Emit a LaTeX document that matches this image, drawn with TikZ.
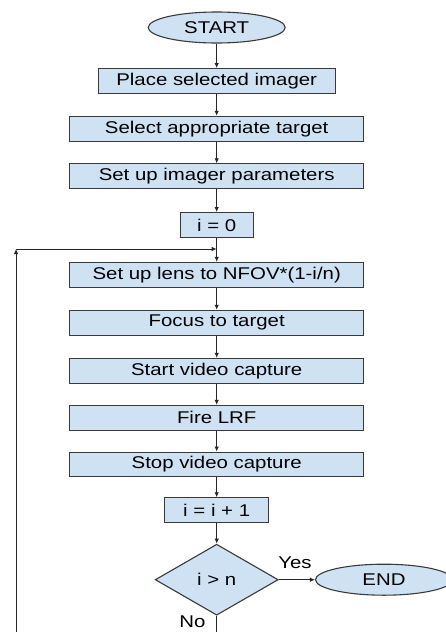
\documentclass[tikz,border=0pt]{standalone}
\usepackage{fontspec}
\setmainfont[FakeStretch=1.2]{Liberation Sans}
\usetikzlibrary{shapes.geometric,arrows.meta}
\definecolor{boxfill}{HTML}{CFE2F3}
\definecolor{boxline}{HTML}{3A3A3A}
\begin{document}
\begin{tikzpicture}[x=1pt,y=-1pt,
  every node/.style={font=\fontsize{17}{19}\selectfont, text=black, inner sep=0pt},
  stepbox/.style={rectangle, draw=boxline, fill=boxfill, line width=1.1pt, minimum height=24.8pt, minimum width=294pt},
  term/.style={ellipse, draw=boxline, fill=boxfill, line width=1.1pt, minimum width=137pt, minimum height=31pt},
  decide/.style={diamond, draw=boxline, fill=boxfill, line width=1.1pt, minimum width=123pt, minimum height=71pt, aspect=1.73},
  conn/.style={draw=black!85, line width=0.9pt, -{Latex[length=5pt,width=4.5pt]}},
  plain/.style={draw=black!85, line width=0.9pt},
  lbl/.style={font=\fontsize{17}{19}\selectfont}
]
\useasboundingbox (0,0) rectangle (446,632);
\node[term] (start) at (216.7,27.5) {START};
\node[stepbox, minimum width=237pt] (place) at (216.7,81) {Place selected imager};
\node[stepbox] (select) at (216.7,128.7) {Select appropriate target};
\node[stepbox] (setup) at (216.7,176.2) {Set up imager parameters};
\node[stepbox, minimum width=72.7pt] (izero) at (216.7,225) {i = 0};
\node[stepbox] (lens) at (216.7,274.8) {Set up lens to NFOV*(1-i/n)};
\node[stepbox] (focus) at (216.7,322.7) {Focus to target};
\node[stepbox] (startvid) at (216.7,370.8) {Start video capture};
\node[stepbox] (fire) at (216.7,417.8) {Fire LRF};
\node[stepbox] (stopvid) at (216.7,464.5) {Stop video capture};
\node[stepbox, minimum width=103.6pt] (inc) at (216.7,510.2) {i = i + 1};
\node[decide] (test) at (216.7,579.7) {i > n};
\node[term] (end) at (384,579.7) {END};
\node[lbl] (yes) at (295,563) {Yes};
\node[lbl] (no) at (192.5,622) {No};
\coordinate (join) at (216.7,249);
\coordinate (corner) at (16,249);
\coordinate (below) at (216.7,660);
\coordinate (belowleft) at (16,660);

\draw[conn] (start) -- (place);
\draw[conn] (place) -- (select);
\draw[conn] (select) -- (setup);
\draw[conn] (setup) -- (izero);
\draw[plain] (izero) -- (join);
\draw[conn] (join) -- (lens);
\draw[conn] (lens) -- (focus);
\draw[conn] (focus) -- (startvid);
\draw[conn] (startvid) -- (fire);
\draw[conn] (fire) -- (stopvid);
\draw[conn] (stopvid) -- (inc);
\draw[conn] (inc) -- (test);
\draw[conn] (test) -- (end);
\draw[plain] (test.south) -- (below) -- (belowleft);
\draw[conn] (belowleft) -- (corner);
\draw[conn] (corner) -- (join);
\end{tikzpicture}
\end{document}
